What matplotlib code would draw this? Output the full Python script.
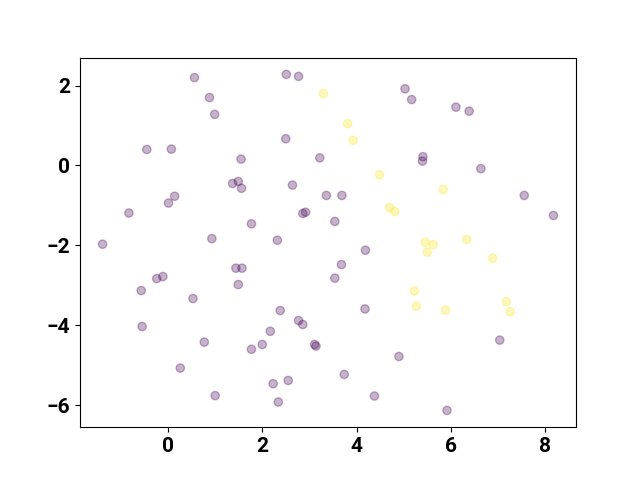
import matplotlib
matplotlib.use("Agg")
import matplotlib.pyplot as plt

plt.rcParams['font.family'] = ['Roboto', 'DejaVu Sans']
plt.rcParams['font.weight'] = 'bold'
plt.rcParams['font.size'] = 15

# group 0 (purple)
x0 = [0.56, 0.88, 0.99, 2.51, 2.77, 2.50, -0.45, 0.07, 1.55, 3.22,
      1.37, 1.49, 1.56, 2.64, 3.36, 0.14, 0.01, -0.83, 2.86, 2.92,
      1.77, -1.39, 0.93, 2.32, 5.03, 5.17, 6.11, 6.39, 5.41, 5.40,
      6.64, 3.69, 3.54, 7.56, 8.18, 1.44, 1.57, -0.24, -0.11, -0.57,
      1.49, 0.53, -0.55, 2.38, 2.77, 2.86, 2.17, 0.77, 2.00, 1.77,
      3.11, 3.14, 0.26, 2.55, 2.23, 1.00, 2.34, 4.19, 3.68, 3.54,
      4.18, 4.90, 3.74, 4.38, 5.92, 7.04]
y0 = [2.20, 1.70, 1.28, 2.28, 2.23, 0.67, 0.40, 0.41, 0.16, 0.19,
      -0.45, -0.40, -0.57, -0.49, -0.75, -0.77, -0.94, -1.19, -1.20, -1.17,
      -1.46, -1.97, -1.83, -1.87, 1.92, 1.65, 1.46, 1.36, 0.22, 0.11,
      -0.08, -0.75, -1.40, -0.75, -1.25, -2.57, -2.57, -2.83, -2.78, -3.13,
      -2.98, -3.33, -4.03, -3.63, -3.88, -3.98, -4.15, -4.42, -4.48, -4.60,
      -4.48, -4.52, -5.07, -5.38, -5.46, -5.76, -5.92, -2.12, -2.48, -2.82,
      -3.59, -4.78, -5.23, -5.77, -6.13, -4.37]

# group 1 (yellow)
x1 = [3.30, 3.81, 3.93, 4.49, 5.84, 4.70, 4.81, 5.46, 5.63, 5.50,
      6.34, 6.89, 5.23, 5.27, 5.89, 7.18, 7.26]
y1 = [1.80, 1.05, 0.63, -0.23, -0.60, -1.05, -1.15, -1.92, -1.98, -2.17,
      -1.85, -2.32, -3.14, -3.52, -3.62, -3.41, -3.66]

xs = x0 + x1
ys = y0 + y1
labels = [0] * len(x0) + [1] * len(x1)

fig, ax = plt.subplots(figsize=(6.4, 4.8), dpi=100)
ax.scatter(xs, ys, c=labels, cmap='viridis', alpha=0.3)
ax.set_xticks([0, 2, 4, 6, 8])
ax.set_yticks([2, 0, -2, -4, -6])
fig.savefig("out.png")
